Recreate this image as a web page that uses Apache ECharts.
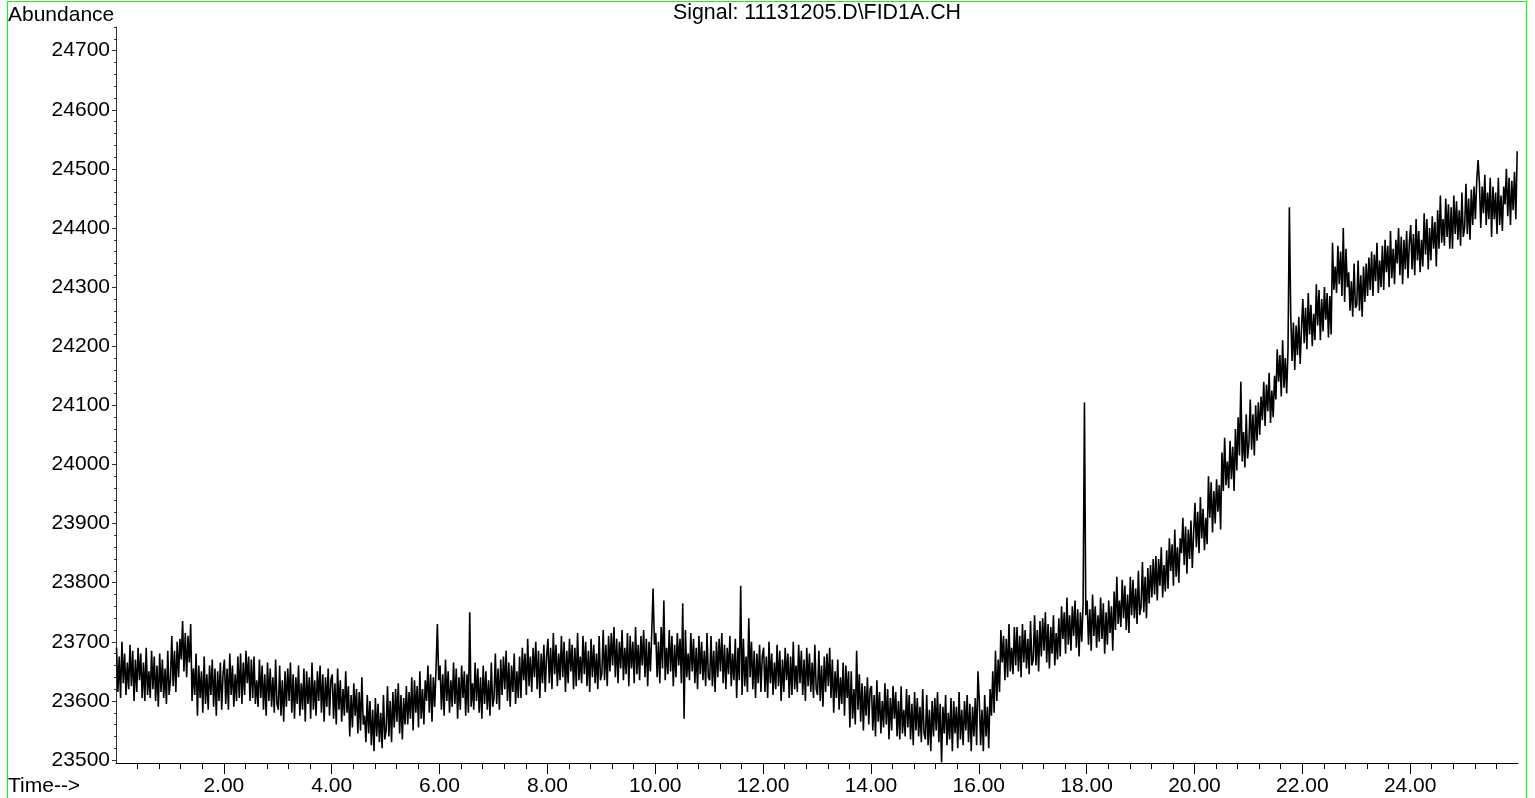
<!DOCTYPE html>
<html>
<head>
<meta charset="utf-8">
<title>Signal: 11131205.D\FID1A.CH</title>
<script src="https://cdn.jsdelivr.net/npm/echarts@6/dist/echarts.min.js"></script>
<style>
  html, body { margin: 0; padding: 0; background: #fff; }
  #chart { width: 1535px; height: 798px; }
</style>
</head>
<body>
<div id="chart"></div>
<script>
// FID detector trace, sampled every 0.025 min starting at 0.01 min
const SAMPLE_START = 0.01;
const SAMPLE_STEP = 0.025;

// Abundance readings, two minutes per array (80 samples each)
const trace00to02 = [
  23690, 23615, 23675, 23605, 23700, 23630, 23680, 23610, 23665, 23620, 23695, 23625, 23685, 23600, 23670, 23615, 23690, 23635, 23680, 23605,
  23665, 23600, 23690, 23610, 23650, 23605, 23685, 23620, 23675, 23600, 23660, 23590, 23680, 23615, 23670, 23605, 23655, 23595, 23685, 23610,
  23635, 23710, 23625, 23685, 23615, 23700, 23640, 23705, 23670, 23735, 23650, 23715, 23640, 23710, 23665, 23730, 23600, 23655, 23610, 23680,
  23575, 23660, 23605, 23650, 23580, 23675, 23595, 23645, 23585, 23660, 23610, 23670, 23590, 23655, 23575, 23650, 23600, 23665, 23585, 23645
];
const trace02to04 = [
  23670, 23595, 23655, 23585, 23680, 23610, 23660, 23590, 23645, 23600, 23675, 23605, 23680, 23595, 23665, 23610, 23685, 23630, 23675, 23600,
  23670, 23605, 23675, 23595, 23635, 23590, 23670, 23605, 23660, 23585, 23645, 23575, 23665, 23600, 23655, 23590, 23640, 23580, 23670, 23595,
  23585, 23660, 23575, 23635, 23565, 23650, 23590, 23655, 23600, 23665, 23580, 23645, 23570, 23640, 23595, 23660, 23575, 23630, 23585, 23655,
  23565, 23650, 23595, 23640, 23570, 23665, 23585, 23635, 23575, 23650, 23600, 23660, 23580, 23645, 23565, 23640, 23590, 23655, 23575, 23635
];
const trace04to06 = [
  23645, 23570, 23630, 23560, 23655, 23585, 23635, 23565, 23620, 23575, 23650, 23580, 23625, 23540, 23610, 23555, 23630, 23575, 23620, 23545,
  23615, 23550, 23640, 23560, 23575, 23530, 23610, 23545, 23600, 23525, 23585, 23515, 23605, 23540, 23595, 23530, 23580, 23520, 23610, 23535,
  23550, 23625, 23540, 23600, 23530, 23615, 23555, 23620, 23565, 23630, 23545, 23610, 23535, 23605, 23560, 23625, 23560, 23615, 23570, 23640,
  23550, 23635, 23580, 23625, 23555, 23650, 23570, 23620, 23560, 23635, 23600, 23660, 23580, 23645, 23565, 23640, 23590, 23655, 23730, 23635
];
const trace06to08 = [
  23660, 23585, 23645, 23575, 23670, 23600, 23650, 23580, 23635, 23590, 23665, 23595, 23655, 23570, 23640, 23585, 23660, 23605, 23650, 23575,
  23645, 23580, 23750, 23590, 23630, 23585, 23665, 23600, 23655, 23580, 23640, 23570, 23660, 23595, 23650, 23585, 23635, 23575, 23665, 23590,
  23605, 23680, 23595, 23655, 23585, 23670, 23610, 23675, 23620, 23685, 23600, 23665, 23590, 23660, 23615, 23680, 23595, 23650, 23605, 23675,
  23605, 23690, 23635, 23680, 23610, 23705, 23625, 23675, 23615, 23690, 23640, 23700, 23620, 23685, 23605, 23680, 23630, 23695, 23615, 23675
];
const trace08to10 = [
  23705, 23630, 23690, 23620, 23715, 23645, 23695, 23625, 23680, 23635, 23710, 23640, 23700, 23615, 23685, 23630, 23705, 23650, 23695, 23620,
  23690, 23625, 23715, 23635, 23675, 23630, 23710, 23645, 23700, 23625, 23685, 23615, 23705, 23640, 23695, 23630, 23680, 23620, 23710, 23635,
  23645, 23720, 23635, 23695, 23625, 23710, 23650, 23715, 23660, 23725, 23640, 23705, 23630, 23700, 23655, 23720, 23635, 23690, 23645, 23715,
  23625, 23710, 23655, 23700, 23630, 23725, 23645, 23695, 23635, 23710, 23660, 23720, 23640, 23705, 23625, 23700, 23650, 23715, 23790, 23695
];
const trace10to12 = [
  23715, 23640, 23700, 23630, 23725, 23655, 23770, 23635, 23690, 23645, 23720, 23650, 23710, 23625, 23695, 23640, 23715, 23660, 23705, 23630,
  23765, 23570, 23720, 23640, 23680, 23635, 23715, 23650, 23705, 23630, 23690, 23620, 23710, 23645, 23700, 23635, 23685, 23625, 23715, 23640,
  23635, 23710, 23625, 23685, 23615, 23700, 23640, 23705, 23650, 23715, 23630, 23695, 23620, 23690, 23645, 23710, 23625, 23680, 23635, 23705,
  23605, 23690, 23635, 23795, 23610, 23705, 23625, 23675, 23615, 23740, 23640, 23700, 23620, 23685, 23605, 23680, 23630, 23695, 23615, 23675
];
const trace12to14 = [
  23690, 23615, 23675, 23605, 23700, 23630, 23680, 23610, 23665, 23620, 23695, 23625, 23685, 23600, 23670, 23615, 23690, 23635, 23680, 23605,
  23675, 23610, 23700, 23620, 23660, 23615, 23695, 23630, 23685, 23610, 23670, 23600, 23690, 23625, 23680, 23615, 23665, 23605, 23695, 23620,
  23610, 23685, 23600, 23660, 23590, 23675, 23615, 23680, 23625, 23690, 23605, 23670, 23580, 23650, 23605, 23670, 23585, 23640, 23595, 23665,
  23575, 23660, 23605, 23650, 23555, 23650, 23570, 23620, 23560, 23685, 23585, 23645, 23565, 23630, 23550, 23625, 23575, 23640, 23560, 23620
];
const trace14to16 = [
  23625, 23550, 23610, 23540, 23635, 23565, 23615, 23545, 23600, 23555, 23630, 23560, 23620, 23535, 23605, 23550, 23625, 23570, 23615, 23540,
  23600, 23535, 23625, 23545, 23585, 23540, 23620, 23555, 23610, 23535, 23595, 23525, 23615, 23550, 23605, 23540, 23590, 23530, 23620, 23545,
  23535, 23610, 23525, 23585, 23515, 23600, 23540, 23605, 23550, 23615, 23530, 23595, 23496, 23590, 23545, 23610, 23525, 23580, 23535, 23605,
  23515, 23600, 23545, 23590, 23520, 23615, 23535, 23585, 23525, 23600, 23550, 23610, 23530, 23595, 23515, 23590, 23540, 23605, 23525, 23650
];
const trace16to18 = [
  23600, 23525, 23585, 23515, 23610, 23540, 23590, 23520, 23620, 23575, 23650, 23580, 23685, 23600, 23670, 23615, 23720, 23665, 23710, 23635,
  23705, 23640, 23730, 23650, 23690, 23645, 23725, 23660, 23725, 23650, 23710, 23640, 23730, 23665, 23720, 23655, 23705, 23645, 23735, 23660,
  23670, 23745, 23660, 23720, 23650, 23735, 23675, 23740, 23685, 23750, 23665, 23730, 23655, 23725, 23680, 23745, 23660, 23715, 23670, 23740,
  23675, 23760, 23705, 23750, 23680, 23775, 23695, 23745, 23685, 23760, 23710, 23770, 23690, 23755, 23675, 23750, 23700, 23765, 24105, 23745
];
const trace18to20 = [
  23770, 23695, 23755, 23685, 23780, 23710, 23760, 23690, 23745, 23700, 23775, 23705, 23765, 23680, 23750, 23695, 23770, 23715, 23760, 23685,
  23785, 23720, 23810, 23730, 23770, 23725, 23805, 23740, 23795, 23720, 23780, 23715, 23810, 23745, 23805, 23740, 23790, 23730, 23820, 23745,
  23760, 23835, 23750, 23810, 23740, 23825, 23765, 23830, 23775, 23840, 23780, 23845, 23770, 23840, 23795, 23860, 23775, 23830, 23785, 23855,
  23790, 23875, 23820, 23865, 23795, 23890, 23810, 23860, 23800, 23875, 23850, 23910, 23830, 23895, 23815, 23890, 23840, 23905, 23825, 23885
];
const trace20to22 = [
  23935, 23860, 23920, 23850, 23945, 23875, 23925, 23855, 23910, 23865, 23980, 23910, 23970, 23885, 23955, 23900, 23975, 23920, 23965, 23890,
  24020, 23955, 24045, 23965, 24005, 23960, 24040, 23975, 24030, 23955, 24060, 23990, 24080, 24015, 24140, 24005, 24055, 23995, 24085, 24010,
  24035, 24110, 24025, 24085, 24015, 24100, 24040, 24105, 24050, 24115, 24075, 24140, 24065, 24135, 24090, 24155, 24070, 24125, 24080, 24150,
  24110, 24195, 24140, 24185, 24115, 24210, 24130, 24180, 24120, 24195, 24435, 24255, 24175, 24240, 24160, 24235, 24185, 24250, 24170, 24230
];
const trace22to24 = [
  24280, 24205, 24265, 24195, 24290, 24220, 24270, 24200, 24255, 24210, 24305, 24235, 24295, 24210, 24280, 24225, 24300, 24245, 24290, 24215,
  24285, 24220, 24375, 24295, 24335, 24290, 24370, 24305, 24360, 24285, 24400, 24275, 24365, 24300, 24325, 24260, 24310, 24250, 24340, 24265,
  24270, 24345, 24260, 24320, 24250, 24335, 24275, 24340, 24285, 24350, 24295, 24360, 24285, 24355, 24310, 24375, 24290, 24345, 24300, 24370,
  24295, 24380, 24325, 24370, 24300, 24395, 24315, 24365, 24305, 24380, 24340, 24400, 24320, 24385, 24305, 24380, 24330, 24395, 24315, 24375
];
const trace24to26 = [
  24405, 24330, 24390, 24320, 24415, 24345, 24395, 24325, 24380, 24335, 24425, 24355, 24415, 24330, 24400, 24345, 24420, 24365, 24410, 24335,
  24430, 24365, 24455, 24375, 24415, 24370, 24450, 24385, 24440, 24365, 24435, 24365, 24455, 24390, 24445, 24380, 24430, 24370, 24460, 24385,
  24400, 24475, 24390, 24450, 24380, 24465, 24405, 24470, 24415, 24480, 24515, 24475, 24400, 24470, 24425, 24490, 24405, 24460, 24415, 24485,
  24385, 24470, 24415, 24460, 24390, 24485, 24405, 24455, 24395, 24470, 24440, 24500, 24420, 24485, 24405, 24480, 24430, 24495, 24415, 24530
];

// Axis tick positions
const timeLabels = [2, 4, 6, 8, 10, 12, 14, 16, 18, 20, 22, 24];
const abundanceLabels = [23500, 23600, 23700, 23800, 23900, 24000, 24100, 24200, 24300, 24400, 24500, 24600, 24700];
const timeMinorTicks = [];
for (let k = 1; k <= 65; k++) { if (k % 5 !== 0) timeMinorTicks.push(+(k * 0.4).toFixed(2)); }
const abundanceMinorTicks = [];
for (let v = 23500; v <= 24740; v += 20) { if (v % 100 !== 0) abundanceMinorTicks.push(v); }

const abundance = [].concat(trace00to02, trace02to04, trace04to06, trace06to08, trace08to10,
  trace10to12, trace12to14, trace14to16, trace16to18, trace18to20, trace20to22, trace22to24, trace24to26);
const points = abundance.map((v, i) => [SAMPLE_START + i * SAMPLE_STEP, v]);

const FONT = 'Liberation Sans, Arial, sans-serif';
const FS = 21;

const chart = echarts.init(document.getElementById('chart'), null, { renderer: 'canvas' });
chart.setOption({
  animation: false,
  backgroundColor: '#fff',
  grid: { left: 116, top: 27, width: 1402, height: 736, containLabel: false },
  graphic: [
    { type: 'rect', shape: { x: 7.5, y: 1.5, width: 1519, height: 805 },
      style: { fill: null, stroke: '#22ee22', lineWidth: 1.2 }, silent: true },
    { type: 'text', left: 8, top: 5,
      style: { text: 'Abundance', font: FS + 'px ' + FONT, fill: '#000' } },
    { type: 'text', x: 817, y: 3,
      style: { text: 'Signal: 11131205.D\\FID1A.CH', font: '21.4px ' + FONT, fill: '#000', align: 'center' } },
    { type: 'text', left: 8, top: 776,
      style: { text: 'Time-->', font: FS + 'px ' + FONT, fill: '#000' } }
  ],
  xAxis: [
    {
      type: 'value', min: 0, max: 26, position: 'bottom',
      axisLine: { show: true, onZero: false, lineStyle: { color: '#000', width: 1 } },
      axisTick: { show: true, inside: false, length: 11, customValues: timeLabels, lineStyle: { color: '#000' } },
      axisLabel: { show: true, customValues: timeLabels, margin: 13, color: '#000', fontSize: FS, fontFamily: FONT,
        formatter: v => v.toFixed(2) },
      splitLine: { show: false }
    },
    {
      type: 'value', min: 0, max: 26, position: 'bottom',
      axisLine: { show: false, onZero: false },
      axisTick: { show: true, inside: false, length: 6, customValues: timeMinorTicks, lineStyle: { color: '#000' } },
      axisLabel: { show: false },
      splitLine: { show: false }
    }
  ],
  yAxis: [
    {
      type: 'value', min: 23495, max: 24740, position: 'left',
      axisLine: { show: true, onZero: false, lineStyle: { color: '#333', width: 1 } },
      axisTick: { show: true, inside: false, length: 4, customValues: abundanceLabels, lineStyle: { color: '#333' } },
      axisLabel: { show: true, customValues: abundanceLabels, margin: 6, color: '#000', fontSize: FS, fontFamily: FONT,
        formatter: v => String(v) },
      splitLine: { show: false }
    },
    {
      type: 'value', min: 23495, max: 24740, position: 'left',
      axisLine: { show: false, onZero: false },
      axisTick: { show: true, inside: false, length: 2, customValues: abundanceMinorTicks, lineStyle: { color: '#333' } },
      axisLabel: { show: false },
      splitLine: { show: false }
    }
  ],
  series: [{
    type: 'line',
    xAxisIndex: 0, yAxisIndex: 0,
    data: points,
    showSymbol: false,
    symbol: 'none',
    sampling: null,
    lineStyle: { color: '#000', width: 1.6 },
    silent: true
  }]
});
</script>
</body>
</html>
